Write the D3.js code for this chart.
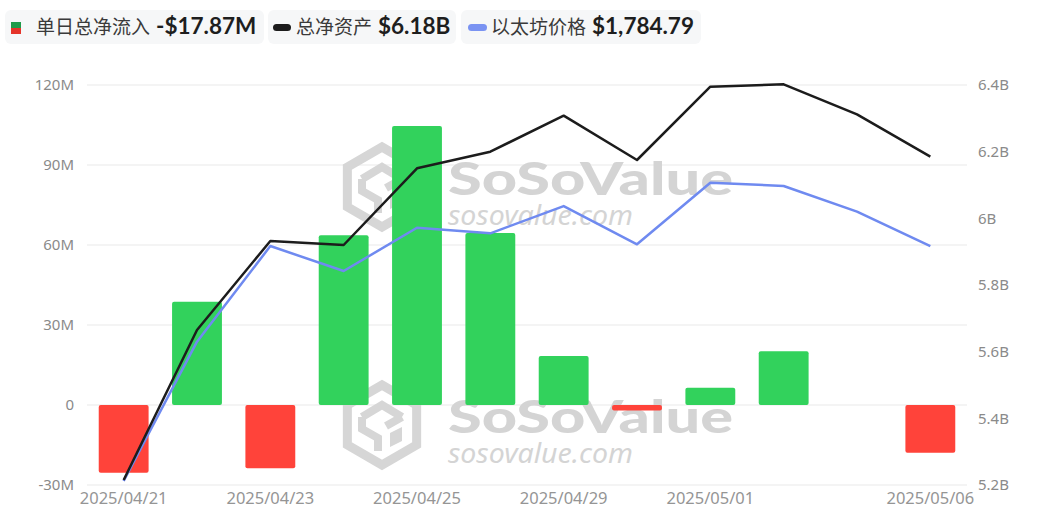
<!DOCTYPE html>
<html>
<head>
<meta charset="utf-8">
<script src="https://cdn.jsdelivr.net/npm/d3@7/dist/d3.min.js"></script>
<style>
  html, body { margin: 0; padding: 0; background: #fff; }
  svg { display: block; }
</style>
</head>
<body>
<svg id="chart" width="1054" height="532"></svg>
<script>
// ---------- DATA ----------
const dates = ["2025/04/21","2025/04/22","2025/04/23","2025/04/24","2025/04/25","2025/04/28",
               "2025/04/29","2025/04/30","2025/05/01","2025/05/02","2025/05/05","2025/05/06"];
const netInflowM = [-25.4, 38.7, -23.7, 63.7, 104.6, 64.5, 18.4, -2.1, 6.5, 20.2, 0, -17.87];
const netAssetsB = [5.215, 5.665, 5.932, 5.920, 6.150, 6.200, 6.308, 6.175, 6.395, 6.402, 6.312, 6.185];
const ethPrice   = [1583.4, 1702.9, 1784.9, 1763.5, 1800.6, 1795.8, 1819.2, 1786.4, 1839.2, 1836.4, 1814.4, 1784.79];
const leftTicks  = [-30, 0, 30, 60, 90, 120];
const leftTickLabels = ["-30M", "0", "30M", "60M", "90M", "120M"];
const rightTicks = [5.2, 5.4, 5.6, 5.8, 6.0, 6.2, 6.4];
const rightTickLabels = ["5.2B", "5.4B", "5.6B", "5.8B", "6B", "6.2B", "6.4B"];
const xTickDates = ["2025/04/21","2025/04/23","2025/04/25","2025/04/29","2025/05/01","2025/05/06"];
const legendItems = [
  { name: "单日总净流入", value: "-$17.87M" },
  { name: "总净资产", value: "$6.18B" },
  { name: "以太坊价格", value: "$1,784.79" }
];

// ---------- SETUP ----------
const svg = d3.select("#chart");
const L = 87, R = 967, T = 85, B = 485;
const cGreen = "#32d25c", cRed = "#ff433a", cBlack = "#1c1c1c", cBlue = "#6f8af0";
const axisColor = "#8a8a8a";
const fontLatin = "'Noto Sans', 'Open Sans', sans-serif";
const fontCJK = "'Noto Sans CJK SC', 'Noto Sans', sans-serif";

const x = d3.scaleBand().domain(dates).range([L, R]).paddingInner(0.32).paddingOuter(0.16);
const yL = d3.scaleLinear().domain([-30, 120]).range([B, T]);
const yR = d3.scaleLinear().domain([5.2, 6.4]).range([B, T]);
const yE = d3.scaleLinear().domain([1580, 1923]).range([B, T]);

// ---------- GRID ----------
svg.append("g").selectAll("line").data(leftTicks).join("line")
  .attr("x1", L).attr("x2", R)
  .attr("y1", d => yL(d)).attr("y2", d => yL(d))
  .attr("stroke", "#e9e9e9").attr("stroke-width", 1);

// ---------- WATERMARKS ----------
function watermark(cy) {
  const g = svg.append("g").attr("fill", "none");
  const cx = 382, r = 40;
  const pts = d3.range(6).map(i => {
    const a = Math.PI / 180 * (60 * i - 90);
    return [cx + r * Math.cos(a), cy + r * Math.sin(a)];
  });
  g.append("path").attr("d", "M" + pts.map(p => p.join(",")).join("L") + "Z")
    .attr("stroke", "#d6d6d6").attr("stroke-width", 9).attr("stroke-linejoin", "miter");
  g.append("path")
    .attr("d", `M${cx-20},${cy-8} L${cx},${cy-20} L${cx+20},${cy-8} M${cx-20},${cy-8} L${cx-20},${cy+4} L${cx-4},${cy+13} L${cx-4},${cy+26} M${cx+20},${cy-8} L${cx+4},${cy+1}`)
    .attr("stroke", "#d6d6d6").attr("stroke-width", 8);
  g.append("path")
    .attr("d", `M${cx+8},${cy+8} L${cx+20},${cy+2} L${cx+20},${cy+16} L${cx+8},${cy+22} Z`)
    .attr("fill", "#d6d6d6");
  svg.append("text").attr("x", 448).attr("y", cy + 8)
    .attr("font-family", "'Lato', 'Noto Sans', sans-serif").attr("font-weight", 900)
    .attr("font-size", 46).attr("fill", "#d4d4d4")
    .attr("textLength", 285).attr("lengthAdjust", "spacingAndGlyphs")
    .text("SoSoValue");
  svg.append("text").attr("x", 448).attr("y", cy + 38)
    .attr("font-family", fontLatin).attr("font-style", "italic")
    .attr("font-size", 27).attr("fill", "#d4d4d4")
    .attr("textLength", 185).attr("lengthAdjust", "spacingAndGlyphs")
    .text("sosovalue.com");
}
watermark(187);
watermark(425);

// ---------- BARS ----------
svg.append("g").selectAll("rect").data(dates.map((d, i) => ({ d, v: netInflowM[i] })).filter(o => o.v !== 0))
  .join("rect")
  .attr("x", o => x(o.d))
  .attr("width", x.bandwidth())
  .attr("y", o => Math.min(yL(o.v), yL(0)))
  .attr("height", o => Math.max(Math.abs(yL(o.v) - yL(0)), 1))
  .attr("rx", 2).attr("ry", 2)
  .attr("fill", o => o.v >= 0 ? cGreen : cRed);

// ---------- LINES ----------
const cx = d => x(d) + x.bandwidth() / 2;
svg.append("path").datum(ethPrice)
  .attr("fill", "none").attr("stroke", cBlue).attr("stroke-width", 2.5).attr("stroke-linejoin", "round")
  .attr("d", d3.line().x((v, i) => cx(dates[i])).y(v => yE(v)));
svg.append("path").datum(netAssetsB)
  .attr("fill", "none").attr("stroke", cBlack).attr("stroke-width", 2.5).attr("stroke-linejoin", "round")
  .attr("d", d3.line().x((v, i) => cx(dates[i])).y(v => yR(v)));

// ---------- AXES ----------
const axL = svg.append("g").attr("transform", `translate(${L - 13},0)`)
  .call(d3.axisLeft(yL).tickValues(leftTicks).tickSize(0).tickPadding(0)
    .tickFormat((d, i) => leftTickLabels[i]));
const axR = svg.append("g").attr("transform", `translate(${R + 11},0)`)
  .call(d3.axisRight(yR).tickValues(rightTicks).tickSize(0).tickPadding(0)
    .tickFormat((d, i) => rightTickLabels[i]));
const axB = svg.append("g").attr("transform", `translate(0,${B + 1})`)
  .call(d3.axisBottom(x).tickValues(xTickDates).tickSize(0).tickPadding(6));
[axL, axR].forEach(a => {
  a.select(".domain").remove();
  a.selectAll("text").attr("font-family", fontLatin).attr("font-size", 15).attr("fill", axisColor);
});
axB.select(".domain").remove();
axB.selectAll("text").attr("font-family", fontLatin).attr("font-size", 16.5).attr("fill", "#959595");

// ---------- LEGEND ----------
const boxes = [
  { x: 5, w: 259, tx: 36 },
  { x: 268, w: 188, tx: 296 },
  { x: 461, w: 240, tx: 491 }
];
const lg = svg.append("g");
legendItems.forEach((it, i) => {
  const b = boxes[i];
  lg.append("rect").attr("x", b.x).attr("y", 10).attr("width", b.w).attr("height", 34)
    .attr("rx", 6).attr("fill", "#f6f7f8");
  const t = lg.append("text").attr("x", b.tx).attr("y", 34)
    .attr("font-size", 19).attr("fill", "#3a3a3a");
  t.append("tspan").attr("font-family", fontCJK).text(it.name);
  t.append("tspan").attr("font-family", "'Lato', 'Noto Sans', sans-serif").attr("font-weight", 700)
    .attr("fill", "#1e1e1e").attr("font-size", 22.5).attr("dx", 6).text(it.value);
});
lg.append("rect").attr("x", 11).attr("y", 22).attr("width", 10).attr("height", 6).attr("fill", "#1f9b4a");
lg.append("rect").attr("x", 11).attr("y", 28).attr("width", 10).attr("height", 6).attr("fill", "#e5342a");
lg.append("rect").attr("x", 273).attr("y", 24).attr("width", 18).attr("height", 7).attr("rx", 3.5).attr("fill", cBlack);
lg.append("rect").attr("x", 468).attr("y", 24).attr("width", 19).attr("height", 7).attr("rx", 3.5).attr("fill", "#7a93f2");
</script>
</body>
</html>
